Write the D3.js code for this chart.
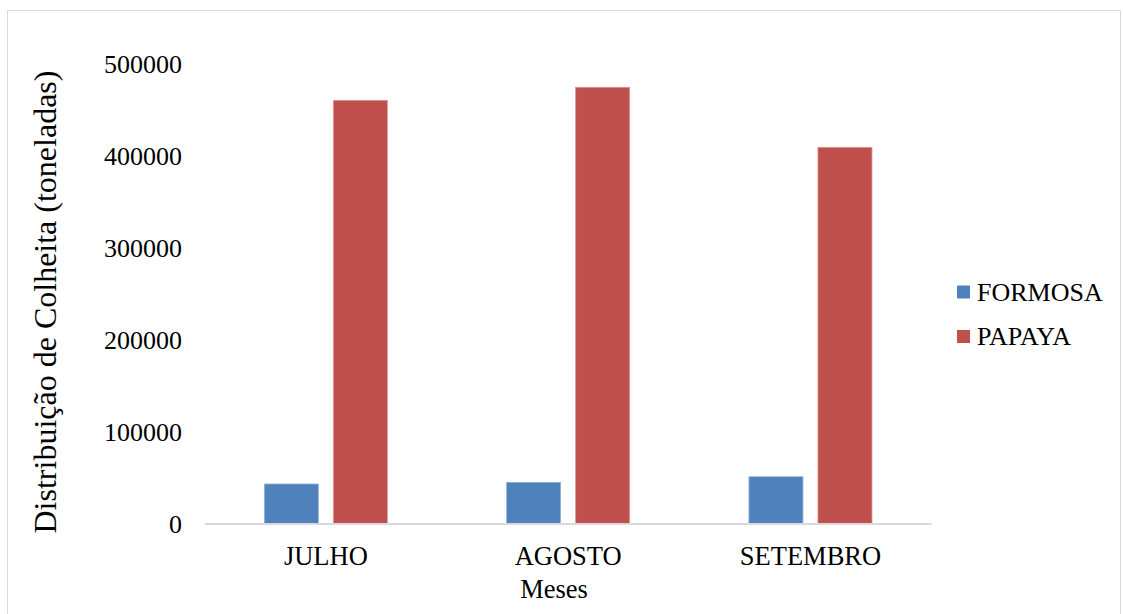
<!DOCTYPE html>
<html>
<head>
<meta charset="utf-8">
<script src="https://cdn.jsdelivr.net/npm/d3@7"></script>
<style>
html,body{margin:0;padding:0;background:#fff;}
svg{display:block;}
svg text{font-family:"Liberation Serif","Times New Roman",serif !important;fill:#000;}
</style>
</head>
<body>
<svg id="chart" width="1123" height="614"></svg>
<script>
const categories = ["JULHO", "AGOSTO", "SETEMBRO"];
const seriesNames = ["FORMOSA", "PAPAYA"];
const formosa = [43500, 45300, 51400];
const papaya = [460500, 474700, 409400];
const yTicks = [0, 100000, 200000, 300000, 400000, 500000];
const colors = ["#4f81bd", "#c0504d"];
const strokeColors = ["#95b3d7", "#da9694"];
const xTitle = "Meses";
const yTitle = "Distribuição de Colheita (toneladas)";

const seriesValues = [formosa, papaya];
const SERIF = '"Liberation Serif","Times New Roman",serif';

const svg = d3.select("#chart");

// outer border
svg.append("rect")
  .attr("x", 7.5).attr("y", 10.5)
  .attr("width", 1113).attr("height", 620)
  .attr("fill", "none").attr("stroke", "#d9d9d9").attr("stroke-width", 1);

const x0 = d3.scaleBand().domain(categories).range([204.7, 931.6]).padding(0);
const x1 = d3.scaleBand().domain(seriesNames).range([0, x0.bandwidth()])
  .paddingInner(15 / 69).paddingOuter(0.864);
const y = d3.scaleLinear().domain([0, 500000]).range([524, 64]);

// y tick labels
const yAxis = d3.axisLeft(y).tickValues(yTicks).tickFormat(d => String(d)).tickSize(0).tickPadding(0);
const gy = svg.append("g").attr("transform", "translate(182,0)").call(yAxis)
  .attr("font-family", SERIF);
gy.select(".domain").remove();
gy.selectAll("text")
  .style("font-family", SERIF)
  .attr("font-size", 26)
  .attr("fill", "#000")
  .attr("dy", "0.32em");

// bars
const groups = svg.append("g").selectAll("g")
  .data(categories)
  .join("g")
  .attr("transform", d => `translate(${x0(d)},0)`);

groups.selectAll("rect")
  .data((c, i) => seriesNames.map((s, j) => ({ s, j, v: seriesValues[j][i] })))
  .join("rect")
  .attr("x", d => x1(d.s))
  .attr("width", x1.bandwidth())
  .attr("y", d => y(d.v))
  .attr("height", d => y(0) - y(d.v))
  .attr("fill", d => colors[d.j])
  .attr("stroke", d => strokeColors[d.j])
  .attr("stroke-width", 0.8);

// x axis
const xAxis = d3.axisBottom(x0).tickSize(0).tickPadding(0);
const gx = svg.append("g").attr("transform", `translate(0,${y(0)})`).call(xAxis)
  .attr("font-family", SERIF);
gx.select(".domain").attr("stroke", "#d9d9d9").attr("stroke-width", 2)
  .attr("d", `M${x0.range()[0]},0H${x0.range()[1]}`);
gx.selectAll("text")
  .style("font-family", SERIF)
  .attr("font-size", 26.5)
  .attr("fill", "#000")
  .attr("y", 41)
  .attr("dy", 0);

// axis titles
svg.append("text")
  .attr("x", 554).attr("y", 598)
  .attr("text-anchor", "middle")
  .style("font-family", SERIF)
  .attr("font-size", 26.5)
  .text(xTitle);

svg.append("text")
  .attr("transform", "translate(56,302) rotate(-90)")
  .attr("text-anchor", "middle")
  .style("font-family", SERIF)
  .attr("font-size", 32)
  .text(yTitle);

// legend
const legend = svg.append("g");
const legendY = [292, 336.5];
seriesNames.forEach((s, j) => {
  legend.append("rect")
    .attr("x", 957).attr("y", legendY[j] - 6.5)
    .attr("width", 13).attr("height", 13)
    .attr("fill", colors[j]);
  legend.append("text")
    .attr("x", 977).attr("y", legendY[j] + 8.5)
    .style("font-family", SERIF)
    .attr("font-size", 26)
    .text(s);
});
</script>
</body>
</html>
